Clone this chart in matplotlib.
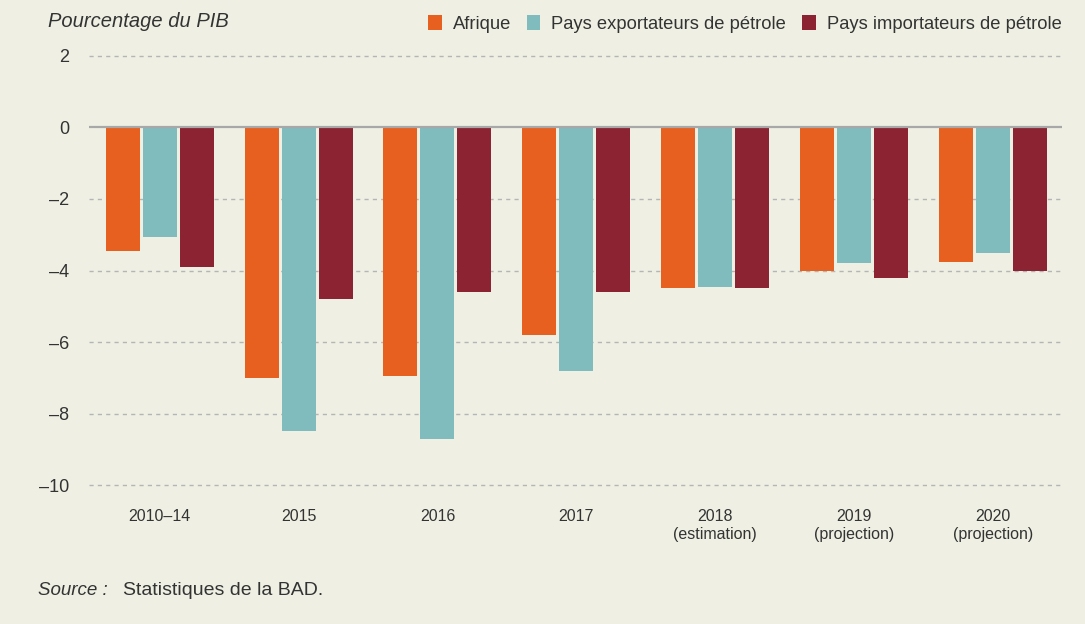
import numpy as np
import matplotlib
matplotlib.use("Agg")
import matplotlib.pyplot as plt
from matplotlib.patches import Patch

plt.rcParams['font.family'] = ['Liberation Sans', 'DejaVu Sans']

# DONNÉES
categories = ["2010–14", "2015", "2016", "2017",
              "2018\n(estimation)", "2019\n(projection)", "2020\n(projection)"]
afrique = [-3.45, -7.0, -6.95, -5.8, -4.5, -4.0, -3.75]
exportateurs = [-3.05, -8.5, -8.7, -6.8, -4.45, -3.8, -3.5]
importateurs = [-3.9, -4.8, -4.6, -4.6, -4.5, -4.2, -4.0]
series_names = ["Afrique", "Pays exportateurs de pétrole", "Pays importateurs de pétrole"]
yticks = [2, 0, -2, -4, -6, -8, -10]

BG = "#EFF0E3"
colors = ["#E8601F", "#80BBBE", "#8B2332"]
TXT = "#333333"

fig = plt.figure(figsize=(10.85, 6.24), dpi=100, facecolor=BG)
ax = fig.add_axes([0.082, 0.217, 0.897, 0.699])
ax.set_facecolor(BG)

x = np.arange(len(categories))
width = 0.245
step = 0.2665
for i, (vals, col) in enumerate(zip([afrique, exportateurs, importateurs], colors)):
    ax.bar(x + (i - 1) * step, vals, width=width, color=col, zorder=3)

ax.set_xlim(-0.51, 6.5)
ax.set_ylim(-10.1, 2.1)

# grille pointillée
for v in yticks:
    if v == 0:
        ax.axhline(0, color="#A8A8A8", linewidth=1.6, zorder=4)
    else:
        ax.axhline(v, color="#B5B5B5", linewidth=1.0, linestyle=(0, (3, 3)), zorder=1)

ax.set_yticks(yticks)
ax.set_yticklabels([str(v).replace("-", "–") for v in yticks], fontsize=13, color=TXT)
ax.set_xticks(x)
ax.set_xticklabels(categories, fontsize=11.5, color=TXT, linespacing=1.2)
ax.tick_params(axis="both", length=0)
ax.tick_params(axis="y", pad=14)
ax.tick_params(axis="x", pad=15)
for s in ax.spines.values():
    s.set_visible(False)

fig.text(0.044, 0.965, "Pourcentage du PIB", fontsize=14.5, style="italic",
         color=TXT, va="center", ha="left")

handles = [Patch(facecolor=c, edgecolor="none") for c in colors]
fig.legend(handles, series_names, loc="center right", bbox_to_anchor=(0.985, 0.962),
           ncol=3, frameon=False, fontsize=13.2, handlelength=0.75, handleheight=0.85,
           handletextpad=0.6, columnspacing=0.85, labelcolor=TXT, borderaxespad=0)

fig.text(0.035, 0.053, "Source :", fontsize=13.5, style="italic", color=TXT,
         va="center", ha="left")
fig.text(0.113, 0.053, "Statistiques de la BAD.", fontsize=14, color=TXT,
         va="center", ha="left")

fig.savefig("out.png", dpi=100, facecolor=BG)
